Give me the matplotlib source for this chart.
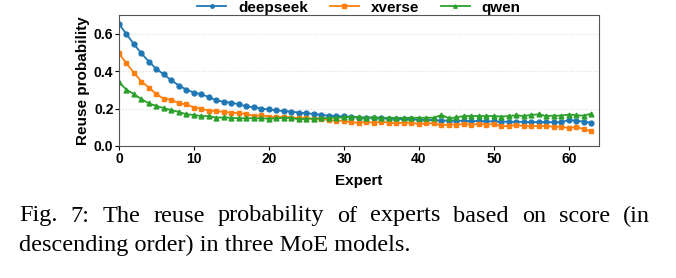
import numpy as np
import matplotlib.pyplot as plt

# reuse probability per expert rank
experts = np.arange(64)
deepseek = [0.652, 0.598, 0.544, 0.495, 0.450, 0.411, 0.382, 0.350, 0.323, 0.301,
            0.285, 0.276, 0.261, 0.243, 0.236, 0.231, 0.223, 0.211, 0.207, 0.200,
            0.195, 0.191, 0.186, 0.184, 0.178, 0.175, 0.171, 0.166, 0.162, 0.160,
            0.158, 0.155, 0.152, 0.151, 0.152, 0.148, 0.146, 0.145, 0.143, 0.142,
            0.140, 0.139, 0.138, 0.136, 0.136, 0.135, 0.134, 0.133, 0.133, 0.132,
            0.131, 0.130, 0.130, 0.129, 0.129, 0.128, 0.128, 0.128, 0.127, 0.127,
            0.139, 0.135, 0.130, 0.124]
xverse = [0.495, 0.441, 0.391, 0.344, 0.312, 0.276, 0.252, 0.247, 0.227, 0.223,
          0.205, 0.198, 0.189, 0.186, 0.182, 0.178, 0.175, 0.171, 0.160, 0.164,
          0.157, 0.153, 0.157, 0.151, 0.150, 0.148, 0.144, 0.144, 0.139, 0.135,
          0.135, 0.126, 0.124, 0.128, 0.124, 0.130, 0.124, 0.121, 0.124, 0.124,
          0.117, 0.121, 0.121, 0.110, 0.114, 0.114, 0.117, 0.114, 0.117, 0.114,
          0.117, 0.106, 0.106, 0.112, 0.106, 0.106, 0.106, 0.106, 0.103, 0.103,
          0.095, 0.103, 0.088, 0.079]
qwen = [0.341, 0.301, 0.277, 0.250, 0.227, 0.214, 0.202, 0.191, 0.182, 0.169,
        0.166, 0.159, 0.160, 0.151, 0.153, 0.150, 0.148, 0.148, 0.148, 0.148,
        0.146, 0.148, 0.150, 0.150, 0.142, 0.146, 0.146, 0.148, 0.150, 0.151,
        0.153, 0.157, 0.153, 0.151, 0.153, 0.150, 0.151, 0.150, 0.150, 0.151,
        0.150, 0.151, 0.151, 0.166, 0.148, 0.153, 0.160, 0.160, 0.160, 0.160,
        0.160, 0.157, 0.160, 0.164, 0.160, 0.166, 0.169, 0.160, 0.162, 0.162,
        0.168, 0.164, 0.162, 0.173]

caption_lines = ["Fig. 7: The reuse probability of experts based on score (in",
                 "descending order) in three MoE models."]

plt.rcParams['font.family'] = ['Liberation Sans', 'DejaVu Sans']

fig = plt.figure(figsize=(6.76, 2.78), dpi=100)
ax = fig.add_axes([0.176, 0.475, 0.710, 0.471])

ax.plot(experts, deepseek, color='#1f77b4', marker='o', markersize=3.5, lw=1.3, label='deepseek')
ax.plot(experts, xverse, color='#ff7f0e', marker='s', markersize=3.5, lw=1.3, label='xverse')
ax.plot(experts, qwen, color='#2ca02c', marker='^', markersize=3.5, lw=1.3, label='qwen')

ax.set_xlim(0, 64)
ax.set_ylim(0, 0.7)
ax.set_yticks([0.0, 0.2, 0.4, 0.6])
ax.set_xticks([0, 10, 20, 30, 40, 50, 60])
ax.grid(axis='y', linestyle=':', color='#dddddd', lw=0.8)
ax.tick_params(labelsize=10, length=3, pad=1)
for lbl in ax.get_xticklabels() + ax.get_yticklabels():
    lbl.set_fontweight('bold')
ax.set_xlabel('Expert', fontsize=11, fontweight='bold', labelpad=6)
ax.set_ylabel('Reuse probability', fontsize=11, fontweight='bold', labelpad=3)
for s in ax.spines.values():
    s.set_color('#555555')

leg = ax.legend(loc='center', bbox_to_anchor=(0.5, 1.055), ncol=3, frameon=False,
                prop={'weight': 'bold', 'size': 11}, handlelength=1.9, columnspacing=1.4,
                borderaxespad=0, borderpad=0, handletextpad=0.8, markerscale=0.7)

# caption as two lines, first one stretched to full width
renderer = fig.canvas.get_renderer()
x0, x1 = 19 / 676, 650 / 676
fs = 17.5
words = caption_lines[0].split(' ')
tmp = [fig.text(0, 0, w, fontsize=fs, family='Liberation Serif') for w in words]
widths = [t.get_window_extent(renderer).width / 676 for t in tmp]
for t in tmp:
    t.remove()
gap = (x1 - x0 - sum(widths)) / (len(words) - 1)
x = x0
for w, wd in zip(words, widths):
    fig.text(x, 1 - 216 / 278, w, fontsize=fs, family='Liberation Serif', va='center')
    x += wd + gap
fig.text(x0, 1 - 245 / 278, caption_lines[1], fontsize=fs, family='Liberation Serif', va='center')

fig.savefig('out.png', dpi=100)
